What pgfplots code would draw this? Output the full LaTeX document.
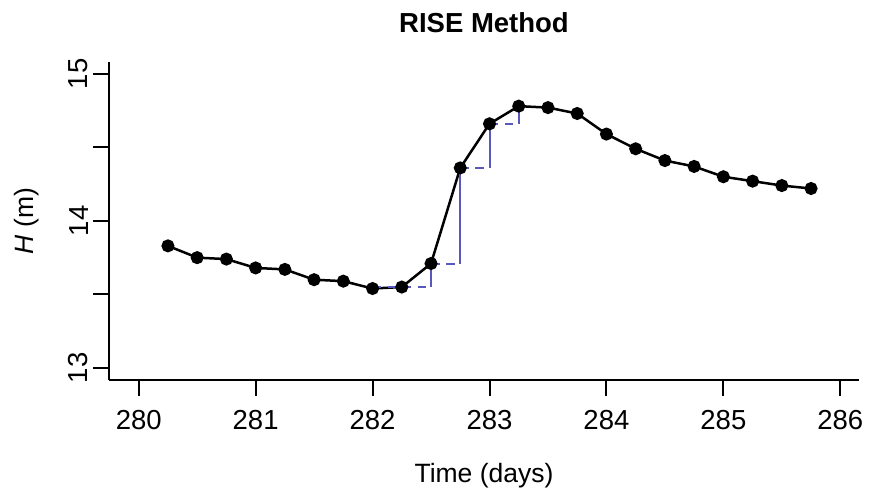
\documentclass[border=0pt]{standalone}
\usepackage{pgfplots}
\pgfplotsset{compat=1.18}
\usepackage{fontspec}
\setmainfont{Liberation Sans}
\definecolor{stepblue}{RGB}{88,88,190}
\begin{document}
\begin{tikzpicture}
\begin{axis}[
  scale only axis,
  width=300pt, height=127.2pt,
  xmin=279.746, xmax=286.16,
  ymin=12.918, ymax=15.08,
  axis x line=bottom, axis y line=left,
  axis line style={-, line width=0.8pt},
  tick style={line width=0.8pt, black},
  tick align=outside,
  major tick length=6.4pt,
  xtick={280,281,282,283,284,285,286},
  ytick={13,13.5,14,14.5,15},
  yticklabels={13,,14,,15},
  /pgf/number format/assume math mode=true,
  /pgf/number format/1000 sep={},
  ticklabel style={font=\fontsize{11}{13}\selectfont},
  xticklabel style={yshift=-2.3pt},
  yticklabel style={rotate=90, anchor=south, yshift=-1.6pt},
  xlabel={Time (days)},
  ylabel={\textit{H} (m)},
  label style={font=\fontsize{10.6}{12}\selectfont},
  xlabel style={at={(axis description cs:0.5,0)}, anchor=north, yshift=-29.6pt},
  ylabel style={at={(axis description cs:0,0.5)}, anchor=south, rotate=0, yshift=24.6pt},
  title={\textbf{RISE Method}},
  title style={font=\fontsize{11}{13}\selectfont, yshift=2pt},
  clip=false,
  unbounded coords=jump,
]
\addplot[black, line width=1pt, mark=*, mark size=2.1pt] coordinates {
(280.25,13.83) (280.5,13.75) (280.75,13.74) (281,13.68) (281.25,13.67)
(281.5,13.60) (281.75,13.59) (282,13.54) (282.25,13.55) (282.5,13.71)
(282.75,14.36) (283,14.66) (283.25,14.78) (283.5,14.77) (283.75,14.73)
(284,14.59) (284.25,14.49) (284.5,14.41) (284.75,14.37) (285,14.30)
(285.25,14.27) (285.5,14.24) (285.75,14.22)
};
\addplot[stepblue, line width=0.8pt, dash pattern=on 3.5pt off 2.5pt] coordinates {
(282,13.55) (282.5,13.55) (282.5,nan)
(282.5,13.71) (282.75,13.71) (282.75,nan)
(282.75,14.36) (283,14.36) (283,nan)
(283,14.66) (283.25,14.66)
};
\addplot[stepblue, line width=0.8pt] coordinates {
(282.5,13.55) (282.5,13.71) (282.5,nan)
(282.75,13.71) (282.75,14.36) (282.75,nan)
(283,14.36) (283,14.66) (283,nan)
(283.25,14.66) (283.25,14.78)
};
\coordinate (bl) at (rel axis cs:0,0);
\coordinate (tr) at (rel axis cs:1,1);
\end{axis}
\pgfresetboundingbox
\path[use as bounding box] ([xshift=-43.6pt,yshift=-44pt]bl) rectangle ([xshift=4pt,yshift=24.8pt]tr);
\end{tikzpicture}
\end{document}
